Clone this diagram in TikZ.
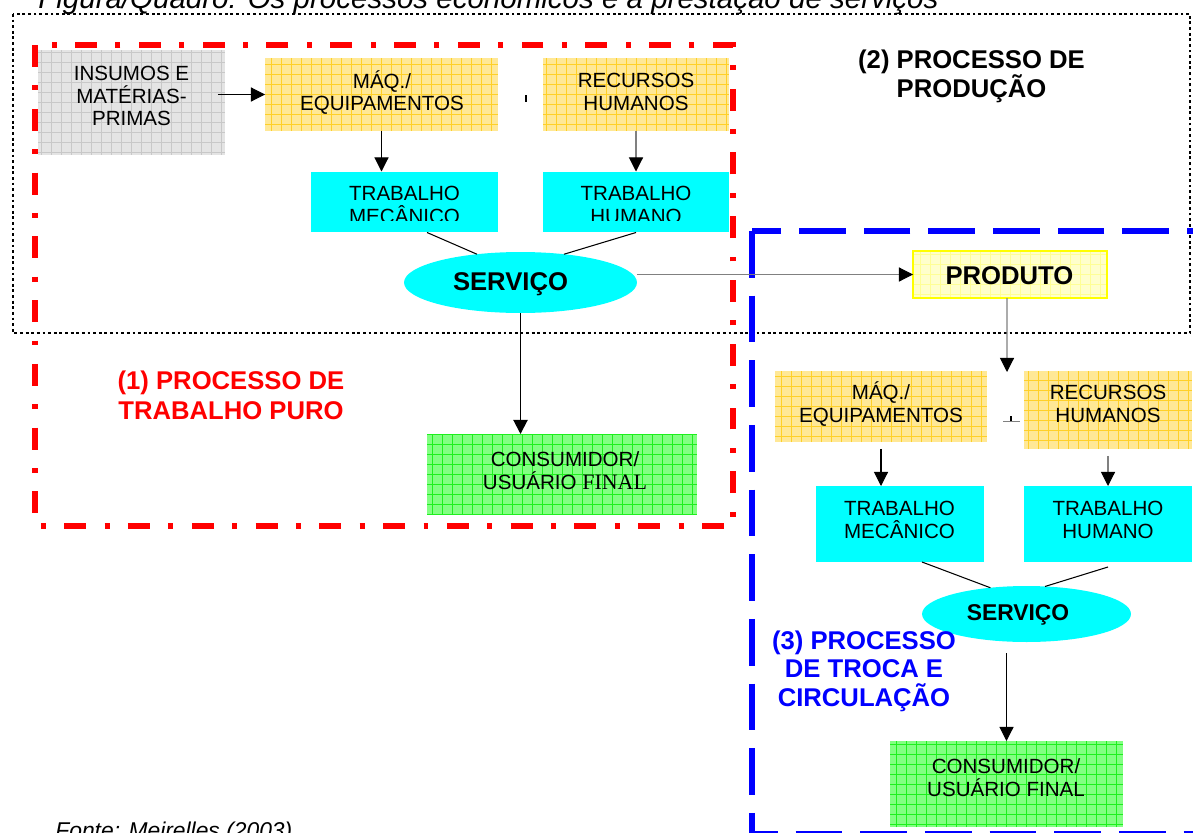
\documentclass[tikz,border=0pt]{standalone}
\usepackage{fontspec}
\setmainfont{Liberation Sans}
\newfontfamily\timesfont{Liberation Serif}
\usetikzlibrary{arrows.meta,shapes.geometric}
\definecolor{cyanbox}{RGB}{0,255,255}
\definecolor{grayfill}{RGB}{228,228,228}
\definecolor{graygrid}{RGB}{200,200,200}
\definecolor{orafill}{RGB}{255,232,150}
\definecolor{oragrid}{RGB}{255,208,40}
\definecolor{grnfill}{RGB}{130,255,130}
\definecolor{grngrid}{RGB}{30,240,30}
\definecolor{prodfill}{RGB}{255,255,204}
\definecolor{prodgrid}{RGB}{255,255,150}
\definecolor{prodline}{RGB}{255,255,0}
\definecolor{redframe}{RGB}{255,0,0}
\definecolor{blueframe}{RGB}{0,0,255}
\definecolor{linegray}{RGB}{128,128,128}
\begin{document}
\begin{tikzpicture}[x=0.02cm,y=-0.02cm,
  gridbox/.style 2 args={draw=none, inner sep=0, outer sep=0, fill=#1,
    path picture={\draw[#2, line width=0.35pt] (path picture bounding box.south west) grid[step=0.2cm] (path picture bounding box.north east);}},
  cyanrect/.style={draw=none, fill=cyanbox, inner sep=0, outer sep=0},
  cyanell/.style={ellipse, draw=none, fill=cyanbox, inner sep=0, outer sep=0},
  boxtxt/.style={font=\fontsize{11.7}{13}\selectfont, align=center, inner sep=0},
  bigtxt/.style={font=\bfseries\fontsize{14.6}{16.6}\selectfont, align=center, inner sep=0},
  arrk/.style={-{Triangle[length=8pt,width=8pt,color=black]}, line width=0.6pt, draw=black},
  arrg/.style={arrk, draw=linegray},
  plainline/.style={line width=0.6pt, draw=black},
]
\useasboundingbox (0,0) rectangle (1193,832);
\fill[white] (0,0) rectangle (1193,832);

% frames
\draw[line width=1.6pt, dash pattern=on 1.6pt off 1.6pt] (13,14) rectangle (1190,333);
\draw[redframe, line width=3.4pt, dash pattern=on 12.5pt off 10.5pt on 2.8pt off 10.5pt] (35,45) rectangle (733,526);
\draw[blueframe, line width=3.1pt, dash pattern=on 26.6pt off 10.2pt] (752,231) rectangle (1198,834);

% title (cut at top) and source (cut at bottom)
\node[anchor=base west, inner sep=0, font=\itshape\fontsize{16.8}{18}\selectfont] (title) at (38,8) {Figura/Quadro: Os processos econômicos e a prestação de serviços};
\node[anchor=base west, inner sep=0, font=\itshape\fontsize{13}{15}\selectfont] (fonte) at (55,838) {Fonte: Meirelles (2003)};

% top part
\node[gridbox={grayfill}{graygrid}, minimum width=3.74cm, minimum height=2.10cm] (insumos) at (131.5,102.5) {};
\node[boxtxt] (tinsumos) at (131.5,96) {INSUMOS E\\MATÉRIAS-\\PRIMAS};
\node[gridbox={orafill}{oragrid}, minimum width=4.66cm, minimum height=1.46cm] (maq1) at (381.5,94.5) {};
\node[boxtxt] (tmaq1) at (382,92.5) {MÁQ./\\EQUIPAMENTOS};
\node[gridbox={orafill}{oragrid}, minimum width=3.72cm, minimum height=1.46cm] (rec1) at (636,94.5) {};
\node[boxtxt] (trec1) at (636,92) {RECURSOS\\HUMANOS};
\node[cyanrect, minimum width=3.74cm, minimum height=1.22cm] (trabmec1) at (404.5,202) {};
\node[cyanrect, minimum width=3.72cm, minimum height=1.22cm] (trabhum1) at (636,202) {};
\begin{scope}
  \clip (311,171) rectangle (729,220);
  \node[boxtxt] (ttrabmec1) at (404.5,205) {TRABALHO\\MECÂNICO};
  \node[boxtxt] (ttrabhum1) at (636,205) {TRABALHO\\HUMANO};
\end{scope}
\node[cyanell, minimum width=4.66cm, minimum height=1.22cm] (serv1) at (520.5,282.5) {};
\node[bigtxt] (tserv1) at (510.5,284) {SERVIÇO};
\node[gridbox={grnfill}{grngrid}, minimum width=5.40cm, minimum height=1.62cm] (cons1) at (562,474.5) {};
\node[boxtxt] (tcons1) at (565,471) {CONSUMIDOR/\\USUÁRIO {\timesfont\fontsize{12.5}{13}\selectfont FINAL}};

% product
\node[gridbox={prodfill}{prodgrid}, draw=prodline, line width=1.1pt, minimum width=3.88cm, minimum height=0.94cm] (produto) at (1010,274.5) {};
\node[bigtxt] (tproduto) at (1009.5,276) {PRODUTO};

% bottom part
\node[gridbox={orafill}{oragrid}, minimum width=4.24cm, minimum height=1.42cm] (maq2) at (881,406.5) {};
\node[boxtxt] (tmaq2) at (881,404) {MÁQ./\\EQUIPAMENTOS};
\node[gridbox={orafill}{oragrid}, minimum width=3.36cm, minimum height=1.56cm] (rec2) at (1108,410) {};
\node[boxtxt] (trec2) at (1108,404) {RECURSOS\\HUMANOS};
\node[cyanrect, minimum width=3.36cm, minimum height=1.52cm] (trabmec2) at (900,524) {};
\node[boxtxt] (ttrabmec2) at (899.5,520) {TRABALHO\\MECÂNICO};
\node[cyanrect, minimum width=3.36cm, minimum height=1.52cm] (trabhum2) at (1108,524) {};
\node[boxtxt] (ttrabhum2) at (1108,520) {TRABALHO\\HUMANO};
\node[cyanell, minimum width=4.18cm, minimum height=1.12cm] (serv2) at (1026.5,614) {};
\node[bigtxt, font=\bfseries\fontsize{13}{15}\selectfont] (tserv2) at (1018,615) {SERVIÇO};
\node[gridbox={grnfill}{grngrid}, minimum width=4.66cm, minimum height=1.72cm] (cons2) at (1006.5,784) {};
\node[boxtxt] (tcons2) at (1006,778) {CONSUMIDOR/\\USUÁRIO FINAL};

% labels
\node[bigtxt, font=\bfseries\fontsize{14.6}{16.5}\selectfont] (lab2) at (971.5,76) {(2) PROCESSO DE\\PRODUÇÃO};
\node[bigtxt, text=redframe, font=\bfseries\fontsize{14.6}{17}\selectfont] (lab1) at (231,395) {(1) PROCESSO DE\\TRABALHO PURO};
\node[bigtxt, text=blueframe, font=\bfseries\fontsize{14.6}{16.2}\selectfont] (lab3) at (864,671) {(3) PROCESSO\\DE TROCA E\\CIRCULAÇÃO};

% connectors
\coordinate (pdown) at (1007,372);
\draw[arrk] ([xshift=-0.14cm]insumos.east |- maq1.west) -- (maq1.west);
\draw[arrk] (maq1.south) -- (maq1.south |- trabmec1.north);
\draw[arrg] (rec1.south) -- (trabhum1.north);
\draw[plainline] ([xshift=0.45cm]trabmec1.south) -- (serv1.147);
\draw[plainline] (trabhum1.south) -- (serv1.33);
\draw[arrg] (serv1.east |- produto.west) -- (produto.west);
\draw[arrk, line width=1.1pt] (serv1.south) -- (serv1.south |- cons1.north);
\draw[arrg] ([xshift=-0.06cm]produto.south) -- (pdown);
\draw[arrk] ([yshift=-0.14cm]maq2.south) -- (maq2.south |- trabmec2.north);
\draw[arrg] ([yshift=-0.14cm]rec2.south) -- (trabhum2.north);
\draw[plainline] ([xshift=0.44cm]trabmec2.south) -- (serv2.144);
\draw[plainline] ([yshift=-0.1cm]trabhum2.south) -- (serv2.56);
\draw[arrk, draw=black] ([yshift=-0.22cm]cons2.north |- serv2.south) -- (cons2.north);

% small connector remnants
\draw[line width=1.2pt] (526,95) -- (526,102);
\draw[linegray, line width=0.5pt] (1003,421) -- (1020,421);
\draw[line width=1.2pt] (1011,416) -- (1011,421);
\end{tikzpicture}
\end{document}
